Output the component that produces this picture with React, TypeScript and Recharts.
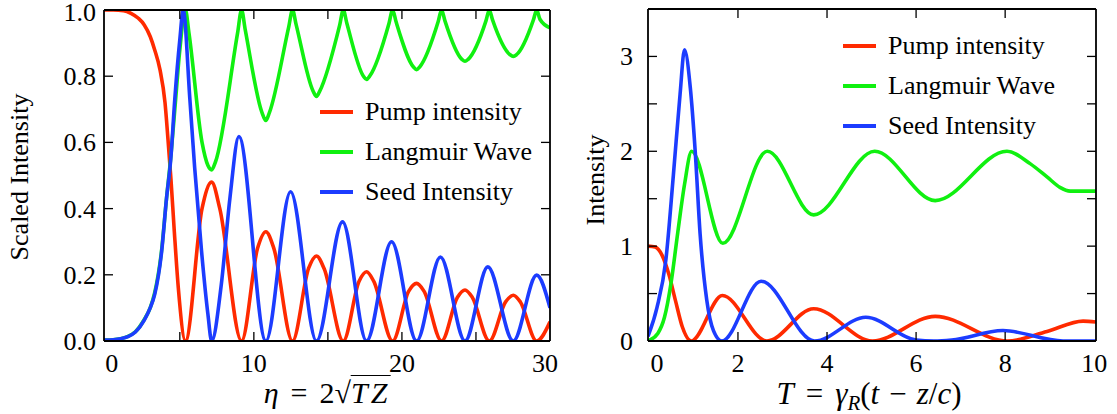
import { Legend, Line, LineChart, XAxis, YAxis } from "recharts";

const FONT = "'Liberation Serif', 'Times New Roman', Times, 'DejaVu Serif', serif";
const RED = "#ff2a00";
const GREEN = "#10f010";
const BLUE = "#1c3cff";
const TICK_LEN = 9;

// left panel, x = eta
const etaDomain: [number, number] = [-0.12, 30];
const etaLines = [5, 10, 15, 20, 25];
const etaLabels = [0, 10, 20, 30];
const scaledDomain: [number, number] = [0, 1];
const scaledTicks = [0, 0.2, 0.4, 0.6, 0.8, 1.0];

const pumpEta: [number, number][] = [
  [-0.12, 1], [0.5, 1], [1.2, 0.998], [1.7, 0.99], [2.2, 0.975], [2.6, 0.955], [3.0, 0.92],
  [3.3, 0.88], [3.66, 0.82], [4.0, 0.72], [4.2, 0.61], [4.4, 0.49], [4.63, 0.33], [4.9, 0.16],
  [5.38, 0], [6.5, 0.4], [7.15, 0.48], [7.7, 0.4], [9.17, 0], [10.25, 0.28], [10.81, 0.33],
  [11.35, 0.28], [12.61, 0], [13.7, 0.22], [14.23, 0.257], [14.75, 0.218], [16.04, 0],
  [17.1, 0.18], [17.61, 0.209], [18.1, 0.18], [19.37, 0], [20.45, 0.15], [20.99, 0.174],
  [21.5, 0.15], [22.68, 0], [23.75, 0.132], [24.26, 0.154], [24.75, 0.132], [25.9, 0],
  [27.0, 0.118], [27.52, 0.138], [28.0, 0.118], [29.1, 0], [30, 0.058],
];
const langmuirEta: [number, number][] = [
  [-0.12, 0.003], [0.5, 0.004], [1.0, 0.007], [1.5, 0.014], [2.0, 0.028], [2.6, 0.065], [3.0, 0.1],
  [3.3, 0.145], [3.76, 0.27], [4.1, 0.43], [4.4, 0.56], [4.7, 0.72], [5.0, 0.88], [5.38, 1],
  [5.62, 0.93], [6.5, 0.6], [6.9, 0.53], [7.15, 0.517], [7.4, 0.54], [8.9, 0.93], [9.17, 1],
  [9.42, 0.94], [10.55, 0.69], [10.81, 0.666], [11.05, 0.69], [12.36, 0.95], [12.61, 1],
  [12.86, 0.955], [14.0, 0.755], [14.23, 0.739], [14.45, 0.755], [15.8, 0.955], [16.04, 1],
  [16.28, 0.96], [17.4, 0.8], [17.61, 0.79], [17.82, 0.8], [19.13, 0.96], [19.37, 1],
  [19.6, 0.965], [20.78, 0.828], [20.99, 0.82], [21.2, 0.828], [22.45, 0.965], [22.68, 1],
  [22.9, 0.968], [24.05, 0.851], [24.26, 0.845], [24.47, 0.851], [25.68, 0.968], [25.9, 1],
  [26.12, 0.97], [27.3, 0.865], [27.52, 0.86], [27.74, 0.865], [28.88, 0.97], [29.1, 1],
  [29.32, 0.972], [30, 0.946],
];
const seedEta: [number, number][] = [
  [-0.12, 0.003], [0.5, 0.004], [1.0, 0.007], [1.5, 0.013], [2.0, 0.027], [2.6, 0.063], [3.0, 0.1],
  [3.3, 0.14], [3.76, 0.265], [4.1, 0.43], [4.39, 0.55], [4.66, 0.73], [5.0, 0.91], [5.23, 1],
  [5.68, 0.73], [6.0, 0.525], [6.46, 0.275], [6.9, 0.08], [7.15, 0], [7.8, 0.17], [8.38, 0.43],
  [8.99, 0.618], [10.81, 0], [12.48, 0.451], [14.23, 0], [15.99, 0.36], [17.61, 0], [19.3, 0.3],
  [20.99, 0], [22.6, 0.254], [24.26, 0], [25.8, 0.224], [27.52, 0], [29.1, 0.199], [30, 0.1],
];

// right panel, x = T
const tDomain: [number, number] = [-0.02, 10.04];
const tLines = [2, 4, 6, 8];
const tLabels = [0, 2, 4, 6, 8, 10];
const intensityDomain: [number, number] = [0, 3.5];
const intensityTicks = [0, 0.5, 1, 1.5, 2, 2.5, 3, 3.5];

const pumpT: [number, number][] = [
  [-0.02, 1], [0.14, 0.99], [0.3, 0.9], [0.45, 0.7], [0.6, 0.42], [0.75, 0.15], [0.95, 0],
  [1.65, 0.48], [2.65, 0], [3.7, 0.34], [5.02, 0], [6.43, 0.26], [8.05, 0], [8.94, 0.1],
  [9.75, 0.21], [10.04, 0.2],
];
const langmuirT: [number, number][] = [
  [-0.02, 0], [0.2, 0.08], [0.35, 0.25], [0.5, 0.62], [0.65, 1.15], [0.8, 1.65], [0.96, 2],
  [1.66, 1.03], [2.66, 2], [3.7, 1.33], [5.07, 2], [6.43, 1.48], [8.04, 2], [8.56, 1.87],
  [8.94, 1.73], [9.23, 1.62], [9.46, 1.58], [10.04, 1.58],
];
const seedT: [number, number][] = [
  [-0.02, 0.05], [0.18, 0.35], [0.38, 0.85], [0.55, 1.75], [0.7, 2.6], [0.8, 3.07], [0.93, 2.67],
  [1.04, 2], [1.15, 1.13], [1.3, 0.43], [1.45, 0.11], [1.64, 0], [2.52, 0.63], [3.72, 0],
  [4.87, 0.25], [6.0, 0.01], [6.4, 0], [6.8, 0.01], [7.95, 0.11], [9.3, 0], [10.04, 0],
];

const seriesNames = ["Pump intensity", "Langmuir Wave", "Seed Intensity"];
const seriesColors = [RED, GREEN, BLUE];

const toPoints = (pairs: [number, number][]) => pairs.map(([x, y]) => ({ x, y }));

function makeYTick(side: "left" | "right", domain: [number, number], label: ((v: number) => string | null) | null, gap: number) {
  return (props: any) => {
    const { x, y, payload } = props;
    const v = payload.value;
    const inner = v > domain[0] && v < domain[1];
    const dir = side === "left" ? 1 : -1;
    const text = label ? label(v) : null;
    return (
      <g>
        {inner && <line x1={x} y1={y} x2={x + dir * TICK_LEN} y2={y} stroke="#000" strokeWidth={1.3} />}
        {text != null && (
          <text x={x - gap} y={y} dy={v === domain[1] ? 11 : 9} textAnchor="end" fontSize={26} style={{ fontFamily: FONT }} fill="#000">
            {text}
          </text>
        )}
      </g>
    );
  };
}

function makeXTick(side: "top" | "bottom", lines: number[], labels: number[], endShift: [number, number]) {
  return (props: any) => {
    const { x, y, payload, index, visibleTicksCount } = props;
    const v = payload.value;
    const dir = side === "bottom" ? -1 : 1;
    const shift = v === 0 ? endShift[0] : index === visibleTicksCount - 1 ? endShift[1] : 0;
    return (
      <g>
        {lines.includes(v) && <line x1={x} y1={y} x2={x} y2={y + dir * TICK_LEN} stroke="#000" strokeWidth={1.3} />}
        {labels.includes(v) && (
          <text x={x + shift} y={y + 31} textAnchor="middle" fontSize={26} style={{ fontFamily: FONT }} fill="#000">
            {v}
          </text>
        )}
      </g>
    );
  };
}

function LegendBox() {
  return (
    <div style={{ fontFamily: FONT, fontSize: 26, color: "#000" }}>
      {seriesNames.map((name, i) => (
        <div key={name} style={{ display: "flex", alignItems: "center", height: 40, whiteSpace: "nowrap" }}>
          <span style={{ display: "inline-block", width: 33, height: 4.5, background: seriesColors[i], marginRight: 12 }} />
          <span>{name}</span>
        </div>
      ))}
    </div>
  );
}

const frame = { stroke: "#000", strokeWidth: 1.8 };

interface PanelProps {
  width: number;
  plotLeft: number;
  plotRight: number;
  plotTop: number;
  xDomain: [number, number];
  xLines: number[];
  xLabels: number[];
  endShift: [number, number];
  yDomain: [number, number];
  yTicks: number[];
  yLabel: (v: number) => string | null;
  yGap: number;
  series: [number, number][][];
  legendAt: { left: number; top: number };
}

function Panel(p: PanelProps) {
  const height = 414;
  const plotBottom = 341;
  const xTicks = Array.from(new Set([...p.xLines, ...p.xLabels])).sort((a, b) => a - b);
  return (
    <LineChart width={p.width} height={height} margin={{ top: 0, right: 0, bottom: 0, left: 0 }} style={{ overflow: "visible" }}>
      <XAxis
        xAxisId="b"
        type="number"
        dataKey="x"
        orientation="bottom"
        height={height - plotBottom}
        domain={p.xDomain}
        allowDataOverflow
        ticks={xTicks}
        interval={0}
        tickSize={0}
        tickMargin={0}
        tickLine={false}
        axisLine={frame}
        tick={makeXTick("bottom", p.xLines, p.xLabels, p.endShift)}
      />
      <XAxis
        xAxisId="t"
        type="number"
        dataKey="x"
        orientation="top"
        height={p.plotTop}
        domain={p.xDomain}
        allowDataOverflow
        ticks={p.xLines}
        interval={0}
        tickSize={0}
        tickMargin={0}
        tickLine={false}
        axisLine={frame}
        tick={makeXTick("top", p.xLines, [], [0, 0])}
      />
      <YAxis
        yAxisId="l"
        type="number"
        orientation="left"
        width={p.plotLeft}
        domain={p.yDomain}
        allowDataOverflow
        ticks={p.yTicks}
        interval={0}
        tickSize={0}
        tickMargin={0}
        tickLine={false}
        axisLine={frame}
        tick={makeYTick("left", p.yDomain, p.yLabel, p.yGap)}
      />
      <YAxis
        yAxisId="r"
        type="number"
        orientation="right"
        width={p.width - p.plotRight}
        domain={p.yDomain}
        allowDataOverflow
        ticks={p.yTicks}
        interval={0}
        tickSize={0}
        tickMargin={0}
        tickLine={false}
        axisLine={frame}
        tick={makeYTick("right", p.yDomain, null, 0)}
      />
      {p.series.map((s, i) => (
        <Line
          key={seriesNames[i]}
          xAxisId="b"
          yAxisId="l"
          data={toPoints(s)}
          dataKey="y"
          name={seriesNames[i]}
          type="monotone"
          stroke={seriesColors[i]}
          strokeWidth={3.6}
          strokeLinejoin="round"
          dot={false}
          activeDot={false}
          isAnimationActive={false}
        />
      ))}
      <Legend
        layout="vertical"
        align="center"
        verticalAlign="middle"
        content={() => <LegendBox />}
        wrapperStyle={{ left: p.legendAt.left, top: p.legendAt.top, width: "auto", height: "auto" }}
      />
    </LineChart>
  );
}

const abs = (left: number, top: number): React.CSSProperties => ({
  position: "absolute",
  left,
  top,
  transform: "translate(-50%, -50%)",
  whiteSpace: "nowrap",
  fontFamily: FONT,
  lineHeight: 1,
  color: "#000",
});

export default function App() {
  return (
    <div style={{ position: "absolute", left: 0, top: 0, width: 1117, height: 414, background: "#fff", overflow: "hidden", fontFamily: FONT }}>
      <div style={{ position: "absolute", left: 0, top: 0 }}>
        <Panel
          width={560}
          plotLeft={104}
          plotRight={550}
          plotTop={10}
          xDomain={etaDomain}
          xLines={etaLines}
          xLabels={etaLabels}
          endShift={[6, -5]}
          yDomain={scaledDomain}
          yTicks={scaledTicks}
          yLabel={(v) => v.toFixed(1)}
          yGap={8}
          series={[pumpEta, langmuirEta, seedEta]}
          legendAt={{ left: 320, top: 92 }}
        />
      </div>
      <div style={{ position: "absolute", left: 560, top: 0 }}>
        <Panel
          width={557}
          plotLeft={88}
          plotRight={536}
          plotTop={9}
          xDomain={tDomain}
          xLines={tLines}
          xLabels={tLabels}
          endShift={[8, 0]}
          yDomain={intensityDomain}
          yTicks={intensityTicks}
          yLabel={(v) => (Number.isInteger(v) ? String(v) : null)}
          yGap={15}
          series={[pumpT, langmuirT, seedT]}
          legendAt={{ left: 283, top: 26 }}
        />
      </div>

      <div style={{ ...abs(20, 177), transform: "translate(-50%, -50%) rotate(-90deg)", fontSize: 26 }}>Scaled Intensity</div>
      <div style={{ ...abs(596, 180), transform: "translate(-50%, -50%) rotate(-90deg)", fontSize: 26 }}>Intensity</div>

      <div style={{ ...abs(327, 393), fontSize: 30 }}>
        <i>η</i>
        <span style={{ margin: "0 12px" }}>=</span>
        2√<span style={{ borderTop: "1.6px solid #000", fontStyle: "italic", letterSpacing: 3 }}>TZ</span>
      </div>
      <div style={{ ...abs(869, 393), fontSize: 31 }}>
        <i>T</i>
        <span style={{ margin: "0 12px" }}>=</span>
        <i>γ</i>
        <i style={{ fontSize: 21, position: "relative", top: 6 }}>R</i>(<i>t</i>
        <span style={{ margin: "0 10px" }}>−</span>
        <i>z</i>/<i>c</i>)
      </div>
    </div>
  );
}
